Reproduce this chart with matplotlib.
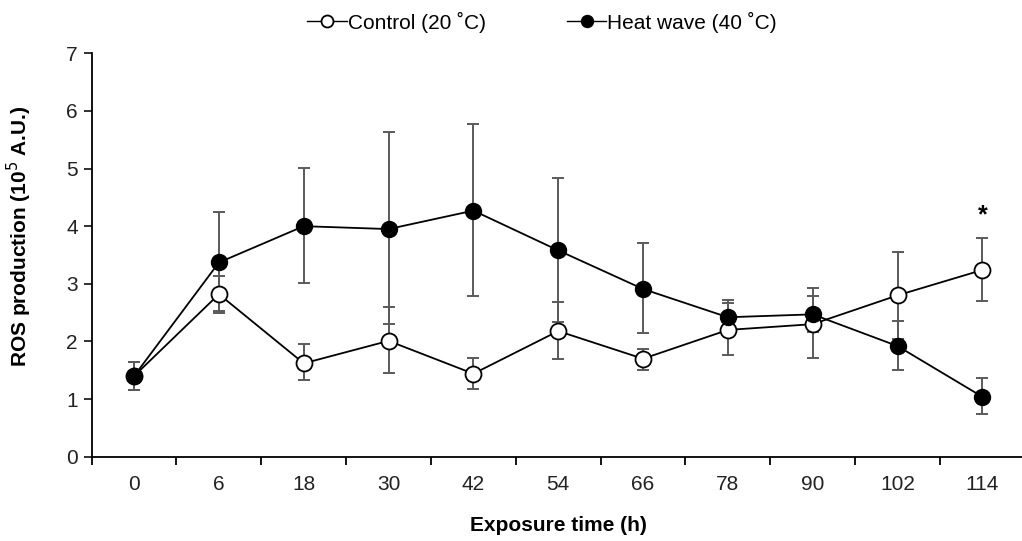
import matplotlib
matplotlib.use("Agg")
import matplotlib.pyplot as plt
import numpy as np

plt.rcParams['font.family'] = ['Liberation Sans', 'DejaVu Sans']

categories = ["0", "6", "18", "30", "42", "54", "66", "78", "90", "102", "114"]
control_mean = [1.40, 2.82, 1.62, 2.01, 1.44, 2.18, 1.70, 2.20, 2.30, 2.80, 3.24]
control_upper = [1.65, 3.13, 1.96, 2.59, 1.72, 2.69, 1.87, 2.66, 2.92, 3.56, 3.80]
control_lower = [1.15, 2.53, 1.33, 1.46, 1.17, 1.70, 1.51, 1.77, 1.72, 2.04, 2.70]
heat_mean = [1.40, 3.37, 4.00, 3.95, 4.27, 3.58, 2.91, 2.42, 2.47, 1.92, 1.04]
heat_upper = [1.65, 4.24, 5.01, 5.63, 5.78, 4.83, 3.70, 2.72, 2.78, 2.36, 1.36]
heat_lower = [1.15, 2.50, 3.01, 2.30, 2.78, 2.33, 2.15, 2.12, 2.16, 1.51, 0.74]
star_index = 10
star_y = 4.18

fig = plt.figure(figsize=(10.22, 5.41), dpi=100)
ax = fig.add_axes([0.0897, 0.1558, 0.913, 0.7457])

x = np.arange(len(categories))
cm = np.array(control_mean); hm = np.array(heat_mean)
c_err = [cm - np.array(control_lower), np.array(control_upper) - cm]
h_err = [hm - np.array(heat_lower), np.array(heat_upper) - hm]

ecol = '#5a5a5a'
ax.errorbar(x, cm, yerr=c_err, fmt='none', ecolor=ecol, elinewidth=1.4,
            capsize=4, capthick=1.4, zorder=1)
ax.errorbar(x, hm, yerr=h_err, fmt='none', ecolor=ecol, elinewidth=1.4,
            capsize=4, capthick=1.4, zorder=1)

ax.plot(x, cm, color='black', lw=1.3, marker='o', markersize=11.5,
        markerfacecolor='white', markeredgecolor='black', markeredgewidth=1.3,
        zorder=3, label='Control (20 ˚C)')
ax.plot(x, hm, color='black', lw=1.3, marker='o', markersize=11.5,
        markerfacecolor='black', markeredgecolor='black',
        zorder=4, label='Heat wave (40 ˚C)')

ax.text(x[star_index], star_y, '*', ha='center', va='center', fontsize=18,
        fontweight='bold')

ax.set_xlim(-0.5, len(categories) - 0.5)
ax.set_ylim(0, 7)
ax.set_yticks(range(0, 8))
ax.tick_params(axis='y', labelsize=15, direction='out', length=6, width=1.3,
               pad=4, colors='#222222')
ax.set_xticks(x)
ax.set_xticklabels(categories)
ax.tick_params(axis='x', which='major', length=0, labelsize=15, pad=13,
               colors='#222222')
ax.set_xticks(np.arange(-0.5, len(categories) + 0.5, 1), minor=True)
ax.tick_params(axis='x', which='minor', direction='out', length=6, width=1.3)

for s in ['top', 'right']:
    ax.spines[s].set_visible(False)
for s in ['left', 'bottom']:
    ax.spines[s].set_linewidth(1.3)

ax.set_ylabel('ROS production (10$^{5}$ A.U.)', fontsize=15, fontweight='bold')
ax.yaxis.set_label_coords(-0.062, 0.547)
ax.set_xlabel('Exposure time (h)', fontsize=15, fontweight='bold', labelpad=16)

leg = ax.legend(loc='center', bbox_to_anchor=(542 / 1022, 1 - 22 / 541),
                bbox_transform=fig.transFigure, ncol=2, frameon=False,
                fontsize=15, handlelength=1.9, handletextpad=0.05,
                columnspacing=3.9, markerscale=0.75)
for h in leg.legend_handles:
    h.set_linewidth(1.0)

fig.savefig('out.png', dpi=100)
